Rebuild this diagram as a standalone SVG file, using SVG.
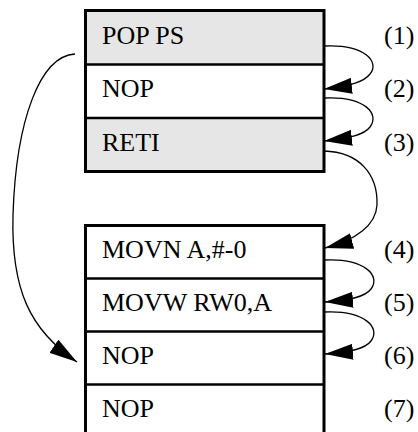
<svg xmlns="http://www.w3.org/2000/svg" width="418" height="432" viewBox="0 0 418 432">
<style>
.box{fill:none;stroke:#000;stroke-width:3}
.sep{stroke:#000;stroke-width:2.5}
.gray{fill:#e6e6e6}
.white{fill:#fff}
text{font-family:"Liberation Serif","Times New Roman",serif;font-size:26px;fill:#000}
.conn{fill:none;stroke:#000;stroke-width:1.3}
</style>
<defs>
<marker id="ah" viewBox="0 0 28 16" refX="28" refY="8" markerWidth="28" markerHeight="16" markerUnits="userSpaceOnUse" orient="auto">
<path d="M0,0 L28,8 L0,16 z" fill="#000"/>
</marker>
</defs>
<rect x="0" y="0" width="418" height="432" fill="#fff"/>
<g id="top-block">
<rect class="gray" x="85.5" y="10.5" width="238.5" height="54"/>
<rect class="white" x="85.5" y="64.5" width="238.5" height="53.5"/>
<rect class="gray" x="85.5" y="118" width="238.5" height="53.5"/>
<line class="sep" x1="85.5" y1="64.5" x2="324" y2="64.5"/>
<line class="sep" x1="85.5" y1="118" x2="324" y2="118"/>
<rect class="box" x="85.5" y="10.5" width="238.5" height="161"/>
</g>
<g id="n1"><text x="102" y="44">POP PS</text><text x="384" y="44">(1)</text></g>
<g id="n2"><text x="102" y="97">NOP</text><text x="384" y="97">(2)</text></g>
<g id="n3"><text x="102" y="151">RETI</text><text x="384" y="151">(3)</text></g>
<g id="bottom-block">
<rect class="white" x="85.5" y="225.5" width="238.5" height="215"/>
<line class="sep" x1="85.5" y1="278.5" x2="324" y2="278.5"/>
<line class="sep" x1="85.5" y1="331.5" x2="324" y2="331.5"/>
<line class="sep" x1="85.5" y1="384.5" x2="324" y2="384.5"/>
<rect class="box" x="85.5" y="225.5" width="238.5" height="215"/>
</g>
<g id="n4"><text x="102" y="258">MOVN A,#-0</text><text x="384" y="258">(4)</text></g>
<g id="n5"><text x="102" y="311">MOVW RW0,A</text><text x="384" y="311">(5)</text></g>
<g id="n6"><text x="102" y="364">NOP</text><text x="384" y="364">(6)</text></g>
<g id="n7"><text x="102" y="417">NOP</text><text x="384" y="417">(7)</text></g>
<g id="connectors">
<path class="conn" marker-end="url(#ah)" d="M324,46 C365,44 380,62 370,74 C364,82 350,86 324,89"/>
<path class="conn" marker-end="url(#ah)" d="M324,98 C365,96 380,114 370,127 C364,135 350,138 324,141"/>
<path class="conn" marker-end="url(#ah)" d="M324,151 C360,152 378,175 377,205 C376,225 356,240 325,248"/>
<path class="conn" marker-end="url(#ah)" d="M324,260 C365,258 381,276 371,289 C365,297 350,300 325,302"/>
<path class="conn" marker-end="url(#ah)" d="M324,312 C365,310 381,328 371,341 C365,349 350,352 325,354"/>
<path class="conn" marker-end="url(#ah)" d="M75,54 C40,56 16,120 13,215 C11,290 30,330 77,362"/>
</g>
</svg>
